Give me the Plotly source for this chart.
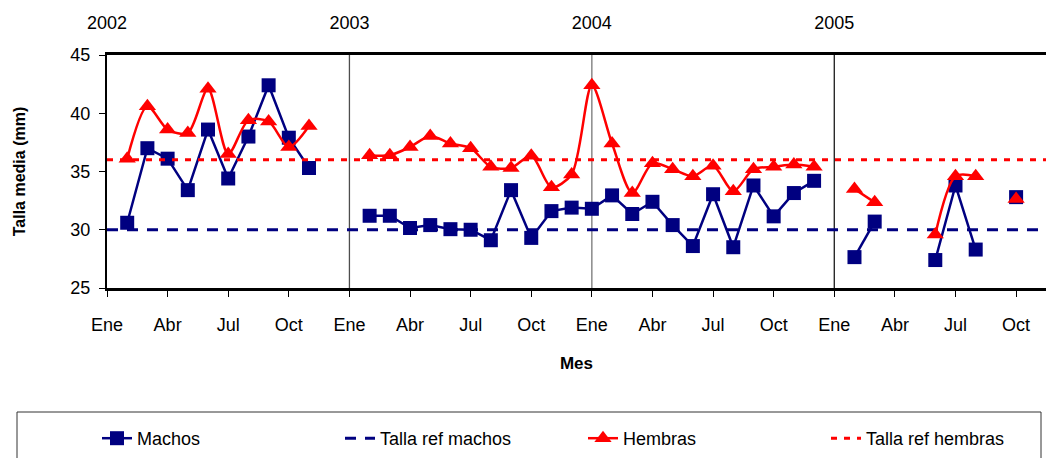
import plotly.graph_objects as go

# ---------------- data ----------------
meses = ["2002-02", "2002-03", "2002-04", "2002-05", "2002-06", "2002-07", "2002-08",
         "2002-09", "2002-10", "2002-11",
         "2003-02", "2003-03", "2003-04", "2003-05", "2003-06", "2003-07", "2003-08",
         "2003-09", "2003-10", "2003-11", "2003-12",
         "2004-01", "2004-02", "2004-03", "2004-04", "2004-05", "2004-06", "2004-07",
         "2004-08", "2004-09", "2004-10", "2004-11", "2004-12",
         "2005-02", "2005-03", "2005-06", "2005-07", "2005-08", "2005-10"]

machos = [30.6, 37.0, 36.1, 33.4, 38.6, 34.4, 38.0, 42.4, 37.9, 35.3,
          31.2, 31.2, 30.15, 30.4, 30.05, 30.0, 29.1, 33.4, 29.3, 31.6, 31.9,
          31.8, 32.95, 31.35, 32.4, 30.4, 28.6, 33.05, 28.5, 33.8, 31.15, 33.15, 34.2,
          27.65, 30.7, 27.4, 33.8, 28.3, 32.8]

hembras = [36.1, 40.6, 38.6, 38.3, 42.1, 36.5, 39.4, 39.3, 37.1, 38.9,
           36.4, 36.4, 37.1, 38.05, 37.4, 37.0, 35.4, 35.3, 36.35, 33.65, 34.75,
           42.4, 37.4, 33.15, 35.7, 35.2, 34.6, 35.5, 33.3, 35.2, 35.4, 35.6, 35.4,
           33.5, 32.35, 29.6, 34.6, 34.6, 32.65]

talla_ref_machos = 30
talla_ref_hembras = 36

anios = [2002, 2003, 2004, 2005]
etiquetas_mes = ["Ene", "Abr", "Jul", "Oct"]
anio_inicio = 2002
x_max = 46.48  # visible end of the month axis

# ---------------- build monthly timeline with gaps ----------------
def idx(m):
    y, mm = m.split("-")
    return (int(y) - anio_inicio) * 12 + int(mm) - 1

pos = [idx(m) for m in meses]
full_x = list(range(min(pos), max(pos) + 1))
mach_map = dict(zip(pos, machos))
hemb_map = dict(zip(pos, hembras))
mach_full = [mach_map.get(i) for i in full_x]
hemb_full = [hemb_map.get(i) for i in full_x]

NAVY = "#000080"
RED = "#FF0000"
FONT = "Liberation Sans, Arial, sans-serif"

W, H = 1046, 458
ML, MT, MB = 107, 55, 170
PW, PH = W - ML, H - MT - MB

def px_x(p):
    return (p - ML) / PW

def px_y(p):
    return (H - MB - p) / PH

fig = go.Figure()

fig.add_trace(go.Scatter(
    x=full_x, y=mach_full, name="Machos", mode="lines+markers",
    line=dict(color=NAVY, width=2.5), connectgaps=False,
    marker=dict(symbol="square", size=14, color=NAVY)))

fig.add_trace(go.Scatter(
    x=[0, x_max], y=[talla_ref_machos] * 2, name="Talla ref machos", mode="lines",
    line=dict(color=NAVY, width=3, dash="11px,9px")))

fig.add_trace(go.Scatter(
    x=full_x, y=hemb_full, name="Hembras", mode="lines+markers",
    line=dict(color=RED, width=2.5, shape="spline", smoothing=0.8), connectgaps=False,
    marker=dict(symbol="triangle-up", size=15, color=RED)))

fig.add_trace(go.Scatter(
    x=[0, x_max], y=[talla_ref_hembras] * 2, name="Talla ref hembras", mode="lines",
    line=dict(color=RED, width=3, dash="6px,7px")))

# invisible trace so the top (year) axis is drawn
fig.add_trace(go.Scatter(x=[0], y=[None], xaxis="x2", mode="lines",
                         showlegend=False, hoverinfo="skip"))

# year separator lines
sep_colors = {2003: "#4d4d4d", 2004: "#777777", 2005: "#1a1a1a"}
for a in anios[1:]:
    xv = (a - anio_inicio) * 12
    fig.add_shape(type="line", xref="x", yref="paper", x0=xv, x1=xv, y0=0, y1=1,
                  line=dict(color=sep_colors[a], width=1.3), layer="below")

# legend frame
fig.add_shape(type="rect", xref="paper", yref="paper",
              x0=px_x(17), x1=px_x(1041), y0=px_y(475), y1=px_y(412),
              line=dict(color="#333333", width=1), fillcolor="rgba(0,0,0,0)")

tickvals = list(range(0, 46, 3))
ticktext = [etiquetas_mes[(v // 3) % 4] for v in tickvals]

fig.update_layout(
    width=W, height=H,
    margin=dict(l=ML, r=0, t=MT, b=MB, autoexpand=False),
    plot_bgcolor="white", paper_bgcolor="white",
    font=dict(family=FONT, size=18, color="black"),
    showlegend=True,
    legend=dict(orientation="h", x=px_x(97), xanchor="left",
                y=px_y(420), yanchor="top",
                entrywidth=198, font=dict(size=18),
                bgcolor="rgba(0,0,0,0)", borderwidth=0),
    xaxis=dict(range=[0, x_max], tickvals=tickvals, ticktext=ticktext,
               ticks="outside", ticklen=6, tickcolor="black", tickwidth=1,
               showline=True, linecolor="black", linewidth=3,
               showgrid=False, zeroline=False, ticklabelstandoff=12,
               title=dict(text="<b>Mes</b>", font=dict(size=17), standoff=24)),
    xaxis2=dict(range=[0, x_max], overlaying="x", side="top", anchor="y",
                tickvals=[(a - anio_inicio) * 12 for a in anios],
                ticktext=[str(a) for a in anios],
                ticks="", showline=True, linecolor="black", linewidth=3,
                showgrid=False, zeroline=False, ticklabelstandoff=16),
    yaxis=dict(range=[25, 45], tickvals=[25, 30, 35, 40, 45],
               ticks="outside", ticklen=6, tickcolor="black",
               showline=True, linecolor="black", linewidth=2,
               showgrid=False, zeroline=False, ticklabelstandoff=5,
               title=dict(text="<b>Talla media (mm)</b>", font=dict(size=16), standoff=41)),
)

fig.write_html("out.html", config={"displayModeBar": False},
               post_script="document.body.style.margin='0';document.body.style.padding='0';")
